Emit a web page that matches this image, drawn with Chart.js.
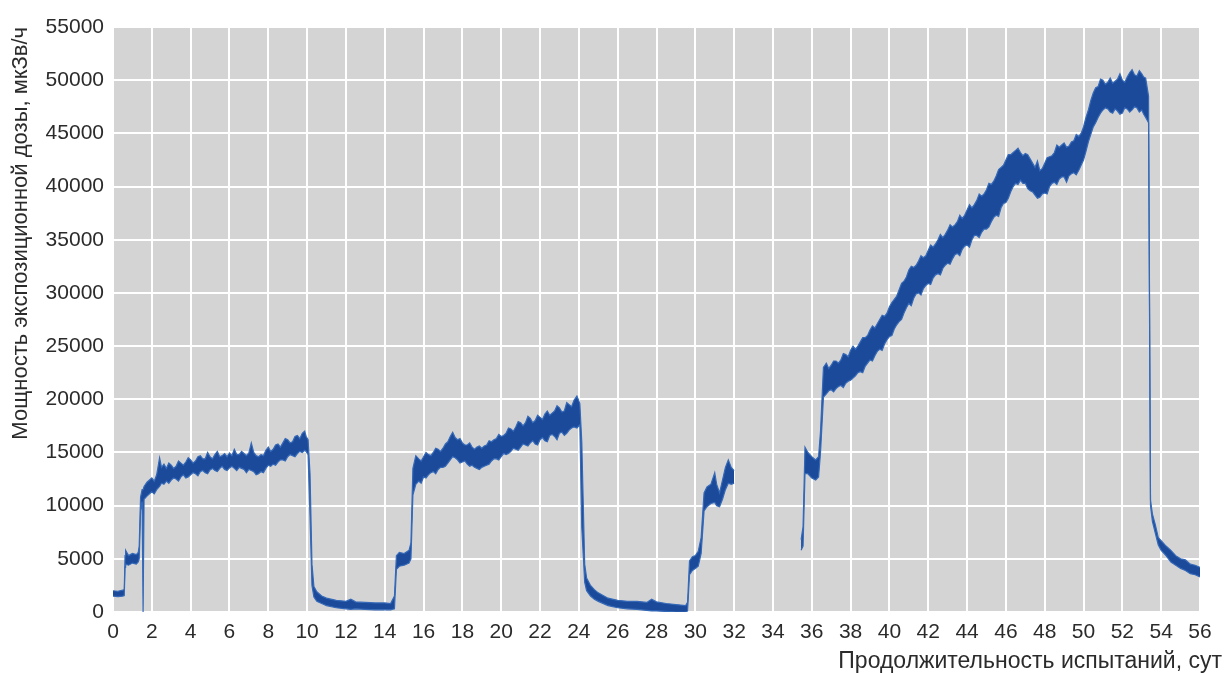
<!DOCTYPE html>
<html>
<head>
<meta charset="utf-8">
<script src="https://cdn.jsdelivr.net/npm/chart.js@4.4.0/dist/chart.umd.min.js"></script>
<style>
html,body{margin:0;padding:0;background:#fff;}
#wrap{width:1226px;height:673px;position:relative;}
</style>
</head>
<body>
<div id="wrap"><canvas id="c" width="1226" height="673"></canvas></div>
<script>
// Days of test (x values)
const days = [
 0,0.25,0.5,0.58,0.62,0.65,0.8,1.0,1.2,1.3,1.35,1.42,1.5,1.55,1.6,1.75,
 2.0,2.125,2.25,2.4,2.5,2.625,2.75,2.875,3.0,3.125,3.25,3.375,3.5,3.625,3.75,3.875,
 4.0,4.125,4.25,4.375,4.5,4.625,4.75,4.875,5.0,5.125,5.25,5.375,5.5,5.625,5.75,5.875,
 6.0,6.125,6.25,6.375,6.5,6.625,6.75,6.875,7.0,7.125,7.25,7.375,7.5,7.625,7.75,7.875,
 8.0,8.125,8.25,8.375,8.5,8.625,8.75,8.875,9.0,9.125,9.25,9.375,9.5,9.625,9.75,9.875,
 9.95,10.05,10.15,10.25,10.35,10.5,10.75,11.0,11.5,12.0,12.25,12.5,13.0,13.5,14.0,14.3,14.5,
 14.6,14.75,15.0,15.25,15.35,15.45,15.6,15.75,15.875,
 16.0,16.125,16.25,16.375,16.5,16.625,16.75,16.875,17.0,17.125,17.25,17.375,17.5,17.625,17.75,17.875,
 18.0,18.125,18.25,18.375,18.5,18.625,18.75,18.875,19.0,19.125,19.25,19.375,19.5,19.625,19.75,19.875,
 20.0,20.125,20.25,20.375,20.5,20.625,20.75,20.875,21.0,21.125,21.25,21.375,21.5,21.625,21.75,21.875,
 22.0,22.125,22.25,22.375,22.5,22.625,22.75,22.875,23.0,23.125,23.25,23.375,23.5,23.625,23.75,23.9,24.05,
 24.15,24.3,24.4,24.6,24.8,25.0,25.5,26.0,26.5,27.0,27.5,27.75,28.0,28.5,29.0,29.5,29.6,
 29.7,29.85,30.0,30.15,30.3,30.45,30.6,30.8,31.0,31.1,31.25,31.4,31.55,31.7,31.85,32.0,
 33.5,
 35.45,35.55,35.65,35.8,36.0,36.2,36.35,36.45,
 36.6,36.75,36.875,37.0,37.125,37.25,37.375,37.5,37.625,37.75,37.875,
 38.0,38.125,38.25,38.375,38.5,38.625,38.75,38.875,39.0,39.125,39.25,39.375,39.5,39.625,39.75,39.875,
 40.0,40.125,40.25,40.375,40.5,40.625,40.75,40.875,41.0,41.125,41.25,41.375,41.5,41.625,41.75,41.875,
 42.0,42.125,42.25,42.375,42.5,42.625,42.75,42.875,43.0,43.125,43.25,43.375,43.5,43.625,43.75,43.875,
 44.0,44.125,44.25,44.375,44.5,44.625,44.75,44.875,45.0,45.125,45.25,45.375,45.5,45.625,45.75,45.875,
 46.0,46.125,46.25,46.375,46.5,46.625,46.75,46.875,47.0,47.125,47.25,47.375,47.5,47.625,47.75,47.875,
 48.0,48.125,48.25,48.375,48.5,48.625,48.75,48.875,49.0,49.125,49.25,49.375,49.5,49.625,49.75,49.875,
 50.0,50.125,50.25,50.375,50.5,50.625,50.75,50.875,51.0,51.125,51.25,51.375,51.5,51.625,51.75,51.875,
 52.0,52.125,52.25,52.375,52.5,52.625,52.75,52.875,53.0,53.1,53.2,53.35,
 53.45,53.55,53.7,53.85,54.0,54.25,54.5,54.75,55.0,55.25,55.5,55.75,56.0
];
// Upper edge of the noisy dose-rate band, µSv/h
const upper = [
 2000,1950,2050,2100,5300,5800,5300,5500,5400,5600,6200,10800,11500,11500,11800,12200,
 12600,12300,12900,14500,13600,13900,13500,14000,13800,13500,13700,14200,14000,13800,14100,14500,
 14300,14000,14200,14600,14700,14400,14400,15000,14600,14400,14800,15100,14600,14700,14900,14600,
 14950,14700,15300,14800,14800,15100,14900,14700,14950,15900,15000,14700,14600,14800,14700,15200,
 15500,15100,15300,15700,15800,15500,15900,16300,16200,15900,16000,16500,16600,16300,16800,17000,
 16500,16200,13000,4500,2400,1900,1500,1300,1100,1000,1200,950,900,850,850,800,1500,
 5300,5600,5500,5800,6500,13500,14700,14400,14200,
 14600,15000,14800,14700,15000,15400,15300,15100,15400,15800,16000,16500,16900,16400,16200,16300,
 15900,15700,15700,15900,15500,15300,15500,15600,15400,15600,15700,16100,16000,16200,16300,16700,
 16500,16600,16800,17300,17200,17000,17400,17900,17800,17500,17800,18400,18200,17800,18000,18500,
 18300,18100,18600,18900,18500,18700,18900,19400,19200,18800,18900,19700,19500,19300,19900,20300,19600,
 16000,4500,3200,2500,2100,1800,1300,1100,1000,1000,900,1200,950,800,700,600,900,
 4800,5200,5300,5700,7000,11200,11750,12000,13100,12000,11200,12400,13600,14300,13600,13300,
 null,
 6800,8000,15500,15000,14600,14300,14600,17000,
 23000,23400,22900,23200,23600,23600,23400,23700,24300,24200,24000,
 24600,25000,24700,25000,25400,25800,25800,26000,26500,26900,26700,27100,27500,27900,27800,28100,
 28700,29100,29400,29700,30300,30900,31100,31500,32150,32500,32400,32600,33000,33500,33300,33500,
 34000,34500,34300,34600,35000,35500,35200,35500,35900,36400,36200,36400,36700,37300,37000,37300,
 37800,38300,38000,38300,38700,39300,39100,39300,39700,40300,40200,40500,41000,41600,41800,42000,
 42500,43000,43000,43200,43400,43600,43200,42900,43100,43000,42600,42200,41800,42400,41500,41700,
 42200,42700,42800,42900,43200,43900,43700,43900,44100,43700,43800,44200,44300,44900,44700,45000,
 45600,46500,47200,48100,48800,49300,49400,50100,50000,49600,49800,50200,49700,49900,50100,50600,
 50000,49800,50300,50700,51000,50500,50400,50900,50600,50300,50200,48500,
 10500,9200,8200,7000,6700,6200,5800,5300,5000,4900,4500,4400,4200
];
// Lower edge of the noisy dose-rate band, µSv/h
const lower = [
 1500,1450,1500,1550,4200,4500,4400,4600,4500,4700,5000,9500,10400,0,10600,10900,
 11300,11100,11500,11800,12100,12000,12300,12100,12400,12600,12500,12300,12700,12900,12600,12700,
 12900,13100,13000,12800,13200,13300,13100,13000,13350,13500,13300,13200,13500,13700,13400,13300,
 13550,13700,13500,13300,13600,13500,13400,13100,13400,13300,13200,12900,13000,13200,13100,13500,
 13800,13700,13900,13800,14100,14300,14300,14200,14600,14800,14700,14600,14900,15100,15000,15200,
 15100,14800,9000,2500,1400,1000,800,600,400,300,250,300,250,200,200,200,300,
 4000,4300,4400,4600,5000,11000,12000,12300,12100,
 12700,12600,12900,13100,13200,13000,13400,13600,13600,13700,14000,14300,14600,14500,14300,14000,
 14100,14200,13900,13700,13800,13600,13500,13400,13600,13700,13800,13900,14200,14400,14400,14300,
 14600,14900,14800,14900,15100,15400,15300,15200,15500,15800,15700,15600,15900,16100,15800,15700,
 16200,16400,16100,16000,16600,16700,16500,16200,16800,16900,16600,16800,17100,17300,17400,17300,17600,
 8000,2800,2000,1500,1200,1000,600,400,300,250,150,100,100,50,0,0,100,
 3500,3900,4100,4300,5500,9500,9900,10200,10300,10000,9900,10600,11500,12100,12000,12100,
 null,
 5800,6200,13000,13000,12600,12400,12700,15000,
 20200,20500,20800,20900,20700,21000,21200,21300,21100,21500,21700,
 21800,22000,22200,22500,22600,22500,23100,23400,23700,23600,24100,24500,24700,24600,25200,25600,
 25900,26000,26600,27000,27300,27500,28100,28600,29000,28800,29500,29900,30000,29800,30400,30700,
 30900,30800,31400,31700,31800,31700,32300,32600,32800,32700,33200,33600,33700,33500,34100,34400,
 34500,34300,35000,35400,35400,35200,35700,36000,36000,36200,36700,37100,37300,37200,38000,38400,
 38500,38900,39500,40000,40300,40200,40600,40300,40300,39800,39600,39500,39200,38900,39000,39300,
 39400,39300,40000,40300,40400,40200,40700,40900,40900,40400,41000,41200,41300,41100,41500,42000,
 42500,43300,44200,44900,45600,46000,46500,46900,47200,47400,47300,47000,46900,47300,47100,46800,
 46900,47400,47300,47000,47200,47500,47400,47000,47200,46800,46500,46000,
 10000,8500,7400,6300,5800,5300,4700,4400,4100,3900,3600,3500,3300
];
const xTicks = [0,2,4,6,8,10,12,14,16,18,20,22,24,26,28,30,32,34,36,38,40,42,44,46,48,50,52,54,56];
const yTicks = [0,5000,10000,15000,20000,25000,30000,35000,40000,45000,50000,55000];
const yTitle = 'Мощность экспозиционной дозы, мкЗв/ч';
const xTitle = 'Продолжительность испытаний, сут';

const toPts = arr => days.map((d,i)=>({x:d,y:arr[i]}));
const FONT = "'Liberation Sans', Arial, sans-serif";
const TXT = '#2b2b2b';

const plotBg = {
  id:'plotBg',
  beforeDraw(chart){
    const {ctx, chartArea:a} = chart;
    ctx.save(); ctx.fillStyle='#d4d4d4';
    ctx.fillRect(a.left,a.top,a.right-a.left,a.bottom-a.top);
    ctx.restore();
  }
};
const xTitlePlugin = {
  id:'xTitlePlugin',
  afterDraw(chart){
    const ctx = chart.ctx;
    ctx.save();
    ctx.font = "23px " + FONT;
    ctx.fillStyle = TXT; ctx.textAlign='right'; ctx.textBaseline='middle';
    ctx.fillText(xTitle, 1222, 662);
    ctx.restore();
  }
};

new Chart(document.getElementById('c'), {
  type:'line',
  data:{
    datasets:[
      {label:'lower', data:toPts(lower), borderColor:'#3569b8', borderWidth:1.2, pointRadius:0, fill:false, tension:0, spanGaps:false},
      {label:'upper', data:toPts(upper), borderColor:'#3569b8', borderWidth:1.2, pointRadius:0, fill:'-1', backgroundColor:'#1c4a9a', tension:0, spanGaps:false}
    ]
  },
  options:{
    responsive:false, animation:false,
    layout:{padding:{left:0,right:26,top:27,bottom:0}},
    plugins:{legend:{display:false}, tooltip:{enabled:false}},
    scales:{
      x:{
        type:'linear', min:0, max:56,
        afterBuildTicks(ax){ ax.ticks = xTicks.map(v=>({value:v})); },
        afterFit(ax){ ax.height = 61; },
        grid:{color:'#ffffff', lineWidth:2, drawTicks:false},
        border:{display:false},
        ticks:{font:{size:21, family:FONT}, color:TXT, padding:8, maxRotation:0, autoSkip:false, callback:v=>String(v)}
      },
      y:{
        min:0, max:55000,
        afterBuildTicks(ax){ ax.ticks = yTicks.map(v=>({value:v})); },
        afterFit(ax){ ax.width = 113; },
        grid:{color:'#ffffff', lineWidth:2, drawTicks:false},
        border:{display:false},
        ticks:{font:{size:21, family:FONT}, color:TXT, padding:9, callback:v=>String(v)},
        title:{display:true, text:yTitle, align:'end', color:TXT, font:{size:22, family:FONT}, padding:{top:8,bottom:0}}
      }
    }
  },
  plugins:[plotBg, xTitlePlugin]
});
</script>
</body>
</html>
